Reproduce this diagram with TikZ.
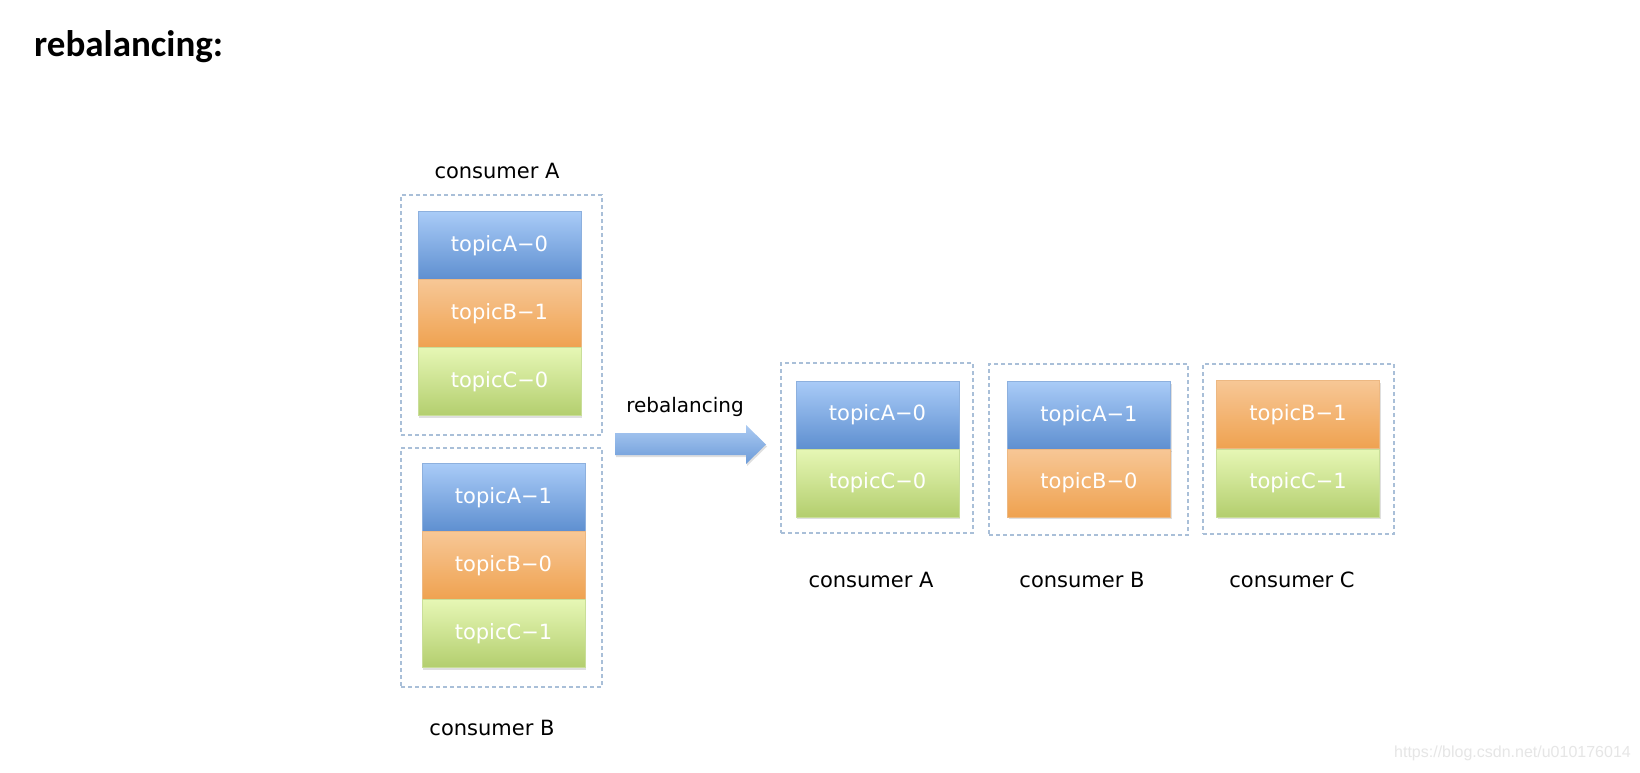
\documentclass[tikz,border=0pt]{standalone}
\usepackage{fontspec}
\setmainfont{DejaVu Sans}
\newfontfamily\titlefont{Carlito}
\newfontfamily\wmfont{Liberation Sans}
\usetikzlibrary{shadows}
\definecolor{bluetop}{HTML}{A9CBF7}
\definecolor{bluebot}{HTML}{5E8FD0}
\definecolor{blueline}{HTML}{8DB0DE}
\definecolor{arrtop}{HTML}{ABCAF2}
\definecolor{arrbot}{HTML}{6C9BD8}
\definecolor{orgtop}{HTML}{F7C796}
\definecolor{orgbot}{HTML}{EFA250}
\definecolor{orgline}{HTML}{EDB882}
\definecolor{grntop}{HTML}{E6F7B5}
\definecolor{grnbot}{HTML}{B3CE6E}
\definecolor{grnline}{HTML}{C9DE99}
\definecolor{dashcol}{HTML}{A9BFD8}
\definecolor{wmcol}{HTML}{E6E6E6}
\tikzset{
  blk/.style={minimum width=163pt, minimum height=68pt, inner sep=0pt,
    text=white, font=\fontsize{21}{24}\selectfont, line width=0.8pt,
    drop shadow={opacity=0.25, shadow xshift=1pt, shadow yshift=-2pt}},
  bA/.style={blk, top color=bluetop, bottom color=bluebot, draw=blueline},
  bB/.style={blk, top color=orgtop, bottom color=orgbot, draw=orgline},
  bC/.style={blk, top color=grntop, bottom color=grnbot, draw=grnline},
  grp/.style={draw=dashcol, line width=1.5pt, dash pattern=on 4pt off 3pt, inner sep=0pt},
  lbl/.style={font=\fontsize{21}{24}\selectfont, text=black, inner sep=0pt},
}
\begin{document}
\begin{tikzpicture}[x=1pt,y=-1pt]
\useasboundingbox (0,0) rectangle (1640,772);
\fill[white] (0,0) rectangle (1640,772);
% title
\node[anchor=west, inner sep=0pt, font=\titlefont\bfseries\fontsize{37}{40}\selectfont] (title) at (34,47) {rebalancing:};
% group boxes
\node[grp, minimum width=201pt, minimum height=240pt] (gA) at (501.5,315) {};
\node[grp, minimum width=201pt, minimum height=239pt] (gB) at (501.5,567.5) {};
\node[grp, minimum width=192pt, minimum height=170pt] (rA) at (877,448) {};
\node[grp, minimum width=199pt, minimum height=171pt] (rB) at (1088.5,449.5) {};
\node[grp, minimum width=191pt, minimum height=170pt] (rC) at (1298.5,449) {};
% left consumer A
\node[bA] (la0) at (499.5,245.5) {topicA−0};
\node[bB] (lb1) at (499.5,313.5) {topicB−1};
\node[bC] (lc0) at (499.5,381.5) {topicC−0};
% left consumer B
\node[bA] (la1) at (503.5,497.5) {topicA−1};
\node[bB] (lb0) at (503.5,565.5) {topicB−0};
\node[bC] (lc1) at (503.5,633.5) {topicC−1};
% right A
\node[bA] (ra0) at (877.5,415) {topicA−0};
\node[bC] (rc0) at (877.5,483) {topicC−0};
% right B
\node[bA] (ra1) at (1089,415.5) {topicA−1};
\node[bB] (rb0) at (1089,483) {topicB−0};
% right C
\node[bB] (rb1) at (1298,414.5) {topicB−1};
\node[bC] (rc1) at (1298,483) {topicC−1};
% labels
\node[lbl] (lblA) at (497,171) {consumer A};
\node[lbl] (lblB) at (492,728) {consumer B};
\node[lbl] (lblRA) at (871,580) {consumer A};
\node[lbl] (lblRB) at (1082,580) {consumer B};
\node[lbl] (lblRC) at (1292,580) {consumer C};
\node[lbl, font=\fontsize{20}{24}\selectfont] (lblreb) at (685,407) {rebalancing};
% block arrow
\path[top color=arrtop, bottom color=arrbot,
  drop shadow={opacity=0.25, shadow xshift=1pt, shadow yshift=-2pt}]
  (615,433) -- (746,433) -- (746,425) -- (766,444.5) -- (746,464) -- (746,455) -- (615,455) -- cycle;
% watermark
\node[anchor=east, inner sep=0pt, text=wmcol, font=\wmfont\fontsize{16}{18}\selectfont] (wm) at (1631,753) {https://blog.csdn.net/u010176014};
\end{tikzpicture}
\end{document}
